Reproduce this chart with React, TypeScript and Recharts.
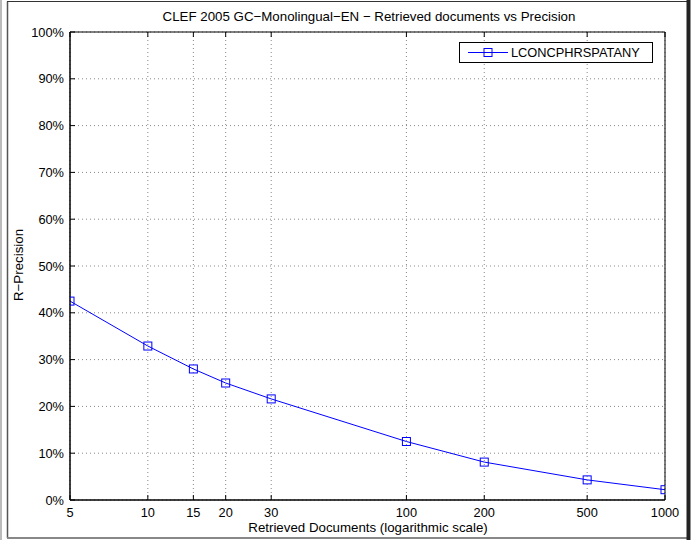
import React from 'react';
import { LineChart, Line, XAxis, YAxis, CartesianGrid } from 'recharts';

const retrievedDocs = [5, 10, 15, 20, 30, 100, 200, 500, 1000];
const precision = [42.5, 32.9, 28.0, 25.0, 21.6, 12.5, 8.1, 4.3, 2.2];
const xTicks = [5, 10, 15, 20, 30, 100, 200, 500, 1000];
const yTicks = [0, 10, 20, 30, 40, 50, 60, 70, 80, 90, 100];
const seriesName = 'LCONCPHRSPATANY';

const data = retrievedDocs.map((d, i) => ({ docs: d, prec: precision[i] }));

const FONT = '"Liberation Sans", Arial, sans-serif';
const BLUE = '#0000ff';
const TICK_FS = 12.8;
const LABEL_FS = 13.3;

const BottomTick = ({ x, y, payload }: any) => (
    <g>
        <line x1={x} y1={y} x2={x} y2={y - 5} stroke="#000" />
        <text x={x} y={y + 17} textAnchor="middle" fontSize={TICK_FS} fontFamily={FONT} fill="#000">{payload.value}</text>
    </g>
);

const TopTick = ({ x, y }: any) => <line x1={x} y1={y} x2={x} y2={y + 5} stroke="#000" />;

const LeftTick = ({ x, y, payload }: any) => (
    <g>
        <line x1={x} y1={y} x2={x + 5} y2={y} stroke="#000" />
        <text x={x - 6} y={y + 4.5} textAnchor="end" fontSize={TICK_FS} fontFamily={FONT} fill="#000">{payload.value}%</text>
    </g>
);

const RightTick = ({ x, y }: any) => <line x1={x} y1={y} x2={x - 5} y2={y} stroke="#000" />;

const SquareDot = (props: any) => {
    const { cx, cy, index } = props;
    return <rect key={`dot-${index}`} x={cx - 4} y={cy - 4} width={8} height={8} fill="none" stroke={BLUE} strokeWidth={1} />;
};

export default function App() {
    return (
        <div style={{ position: 'absolute', left: 0, top: 0, width: 696, height: 540, background: '#fff' }}>
            <LineChart width={696} height={540} data={data} margin={{ top: 31, right: 30, bottom: 0, left: 0 }}>
                <CartesianGrid stroke="#888" strokeDasharray="1 3" />
                <XAxis dataKey="docs" type="number" scale="log" domain={[5, 1000]} ticks={xTicks}
                    height={40} tickSize={0} tickMargin={0} tickLine={false} tick={<BottomTick />}
                    stroke="#000" axisLine={{ stroke: '#000', strokeWidth: 1.5 }} allowDataOverflow interval={0} />
                <XAxis xAxisId="top" orientation="top" dataKey="docs" type="number" scale="log" domain={[5, 1000]} ticks={xTicks}
                    height={1} tickSize={0} tickMargin={0} tickLine={false} tick={<TopTick />}
                    stroke="#000" axisLine={{ stroke: '#000' }} allowDataOverflow interval={0} />
                <YAxis domain={[0, 100]} ticks={yTicks} width={70} tickSize={0} tickMargin={0} tickLine={false}
                    tick={<LeftTick />} stroke="#000" axisLine={{ stroke: '#000', strokeWidth: 1.5 }} interval={0} />
                <YAxis yAxisId="right" orientation="right" domain={[0, 100]} ticks={yTicks} width={1} tickSize={0} tickMargin={0}
                    tickLine={false} tick={<RightTick />} stroke="#000" axisLine={{ stroke: '#000' }} interval={0} />
                <Line dataKey="prec" stroke={BLUE} strokeWidth={1} dot={SquareDot} isAnimationActive={false} type="linear" />
            </LineChart>
            <svg width={696} height={540} style={{ position: 'absolute', left: 0, top: 0, pointerEvents: 'none' }}>
                {/* figure frame */}
                <line x1={1} y1={0} x2={1} y2={540} stroke="#bbb" strokeWidth={2} />
                <line x1={7.5} y1={1.5} x2={7.5} y2={538} stroke="#555" strokeWidth={1.5} />
                <line x1={7} y1={1.5} x2={689} y2={1.5} stroke="#333" />
                <line x1={7} y1={538} x2={689} y2={538} stroke="#888" strokeWidth={2} />
                <line x1={688.5} y1={0} x2={688.5} y2={540} stroke="#222" strokeWidth={4} />

                <text x={369} y={20.5} textAnchor="middle" fontSize={LABEL_FS} fontFamily={FONT}>
                    CLEF 2005 GC−Monolingual−EN − Retrieved documents vs Precision
                </text>
                <text x={368} y={532} textAnchor="middle" fontSize={LABEL_FS} fontFamily={FONT}>
                    Retrieved Documents (logarithmic scale)
                </text>
                <text x={23} y={265} textAnchor="middle" fontSize={LABEL_FS} fontFamily={FONT} transform="rotate(-90 23 265)">
                    R−Precision
                </text>

                {/* legend */}
                <rect x={459.5} y={42.5} width={193} height={20} fill="#fff" stroke="#000" />
                <line x1={468} y1={52.5} x2={508} y2={52.5} stroke={BLUE} />
                <rect x={484} y={48.5} width={8} height={8} fill="none" stroke={BLUE} />
                <text x={511} y={57} fontSize={TICK_FS} fontFamily={FONT}>{seriesName}</text>
            </svg>
        </div>
    );
}
